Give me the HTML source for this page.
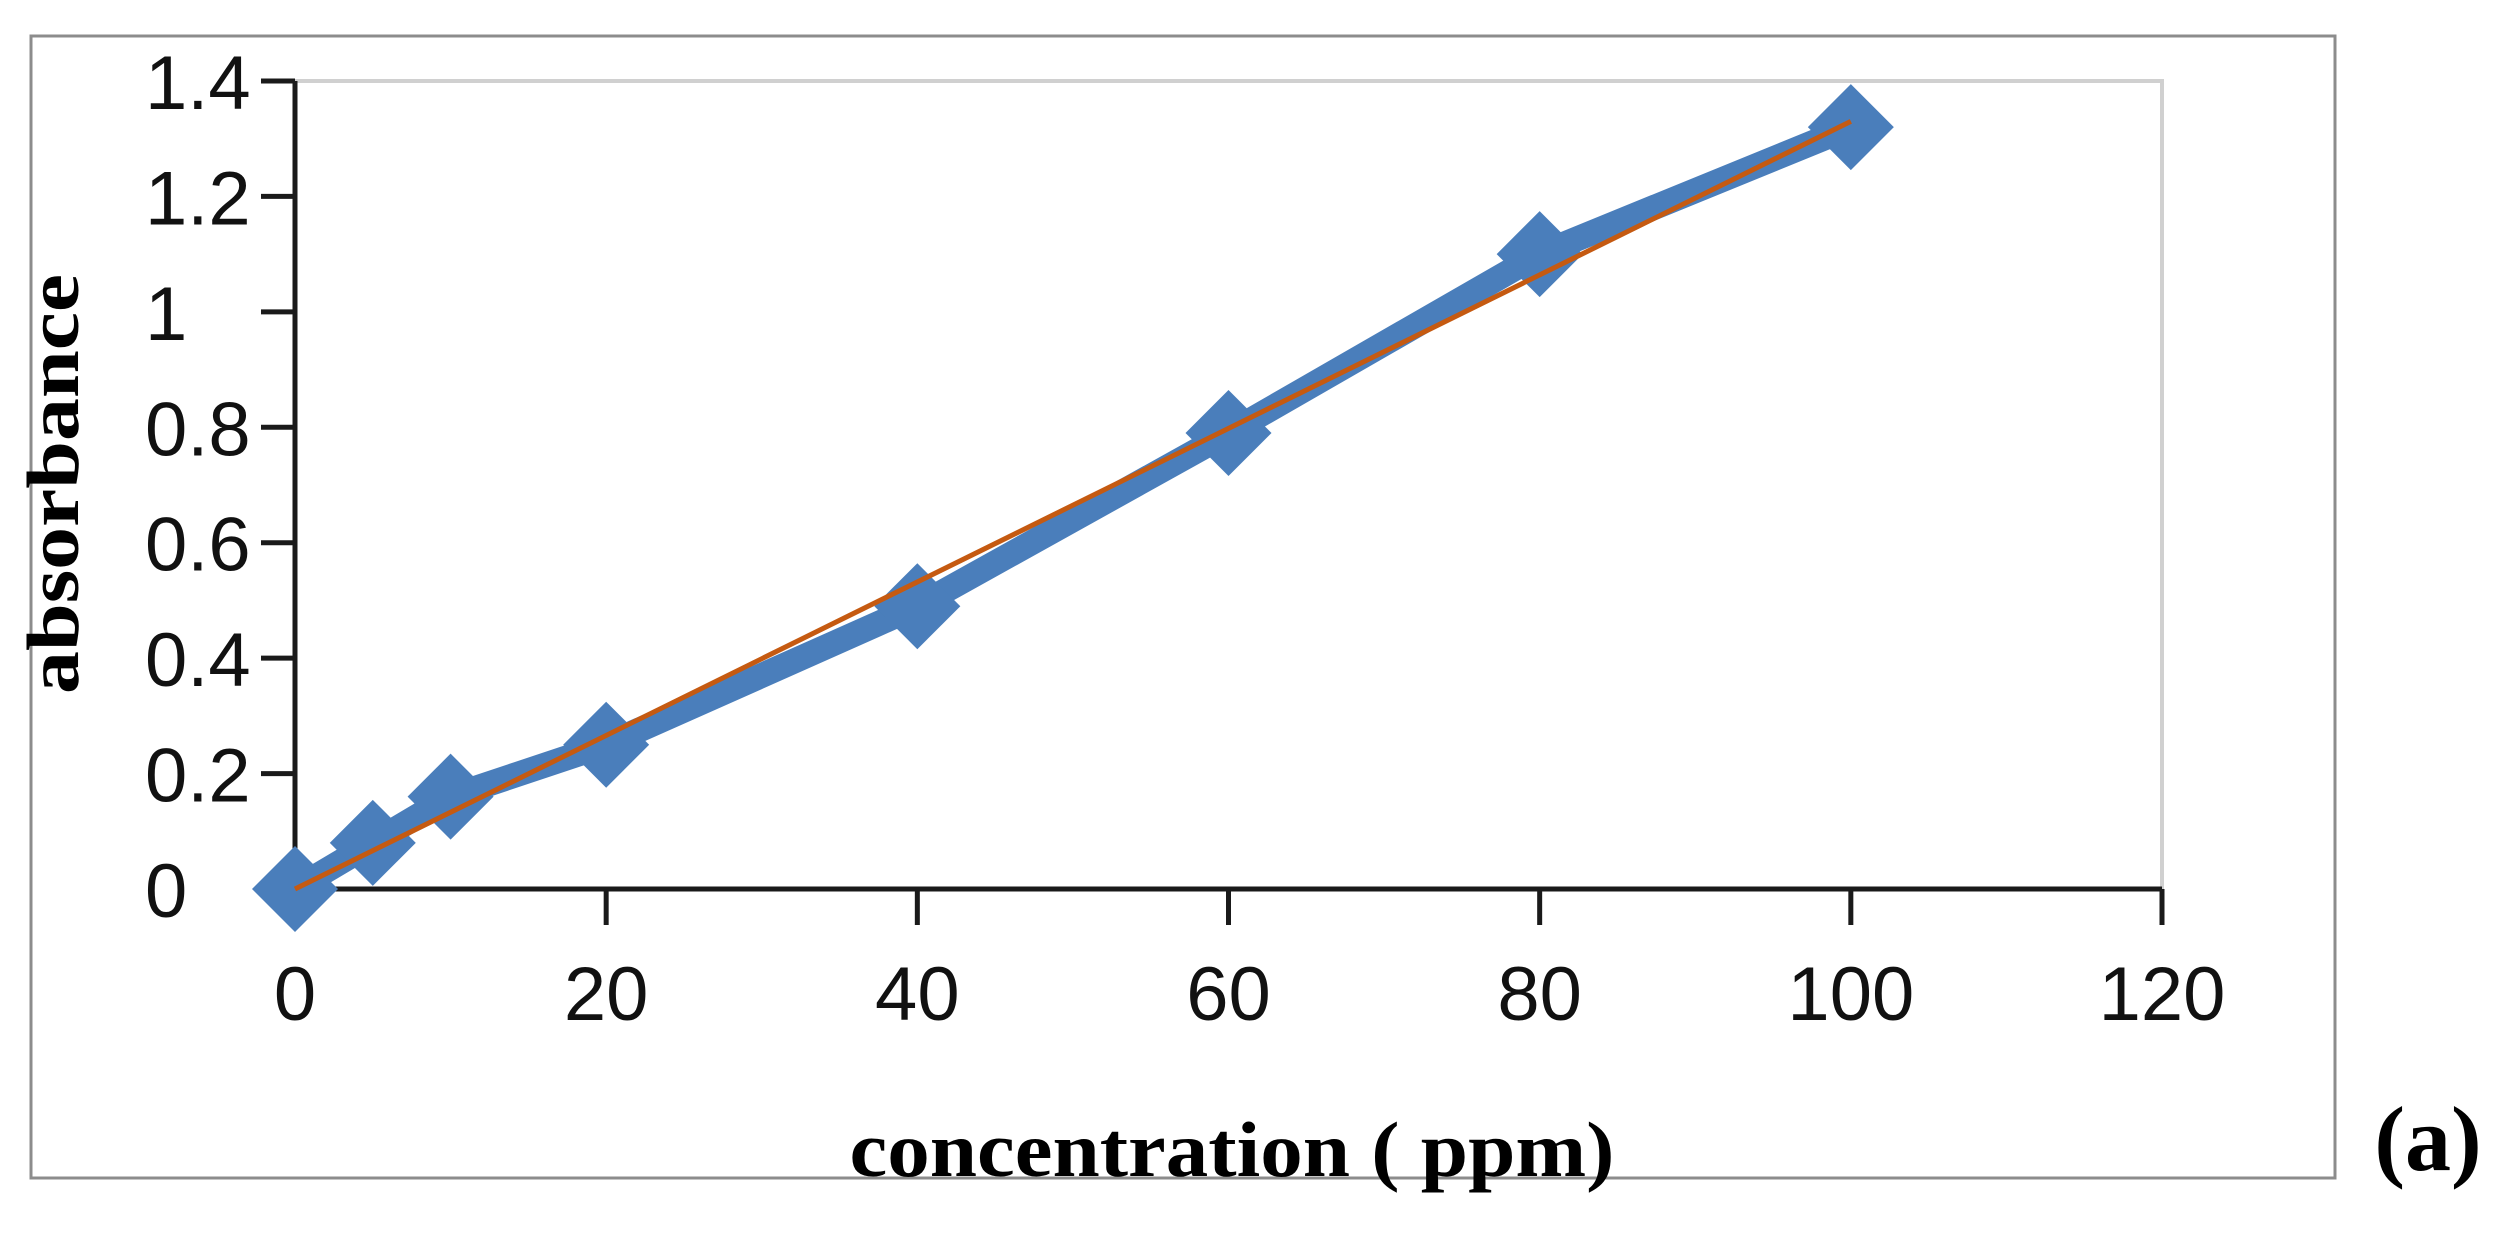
<!DOCTYPE html>
<html><head><meta charset="utf-8"><style>
html,body{margin:0;padding:0;background:#fff;}
svg{display:block;}
</style></head><body>
<svg id="chart" width="2509" height="1245" xmlns="http://www.w3.org/2000/svg">
<rect x="31" y="36" width="2304" height="1142" fill="#fff" stroke="#8c8c8c" stroke-width="3"/>
<g id="plot"></g>
<text transform="translate(78,484) rotate(-90)" text-anchor="middle" font-family="Liberation Serif, serif" font-weight="bold" font-size="74" textLength="420" lengthAdjust="spacingAndGlyphs">absorbance</text>
<text x="1232" y="1176" text-anchor="middle" font-family="Liberation Serif, serif" font-weight="bold" font-size="78" textLength="765" lengthAdjust="spacingAndGlyphs">concentration ( ppm)</text>
<text x="2428" y="1170" text-anchor="middle" font-family="Liberation Serif, serif" font-weight="bold" font-size="92">(a)</text>
</svg>
<script>
const xValues = [0, 5, 10, 20, 40, 60, 80, 100];
const yValues = [0, 0.08, 0.16, 0.25, 0.49, 0.79, 1.10, 1.32];
const trendX = [0, 100];
const trendY = [0, 1.33];
const xTicks = [0, 20, 40, 60, 80, 100, 120];
const yTicks = [0, 0.2, 0.4, 0.6, 0.8, 1, 1.2, 1.4];

const X0 = 295, X1 = 2162, Y0 = 889, Y1 = 81;
const sx = v => X0 + (v - 0) / 120 * (X1 - X0);
const sy = v => Y0 - (v - 0) / 1.4 * (Y0 - Y1);
const NS = 'http://www.w3.org/2000/svg';
const plot = document.getElementById('plot');
function mk(tag, attrs) {
  const e = document.createElementNS(NS, tag);
  for (const k in attrs) e.setAttribute(k, attrs[k]);
  plot.appendChild(e);
  return e;
}
let fr = mk('path', {d: `M${X0},${Y1} H${X1} V${Y0}`, fill: 'none', stroke: '#d0d0d0', 'stroke-width': 4});


let ya = mk('line', {x1: X0, y1: Y1, x2: X0, y2: Y0, stroke: '#1a1a1a', 'stroke-width': 5});


let xa = mk('line', {x1: X0, y1: Y0, x2: X1, y2: Y0, stroke: '#1a1a1a', 'stroke-width': 5});


yTicks.forEach(t => {
  const y = sy(t);
  const l = mk('line', {x1: 261, y1: y, x2: X0, y2: y, stroke: '#1a1a1a', 'stroke-width': 5});
  
  
  const tx = mk('text', {x: 145, y: y + 28, 'text-anchor': 'start', 'font-family': 'Liberation Sans, sans-serif', 'font-size': 76, fill: '#111'});
  tx.textContent = String(t);
  
  
});
xTicks.forEach(t => {
  const x = sx(t);
  const l = mk('line', {x1: x, y1: Y0, x2: x, y2: 925, stroke: '#1a1a1a', 'stroke-width': 5});
  
  
  const tx = mk('text', {x: x, y: 1020, 'text-anchor': 'middle', 'font-family': 'Liberation Sans, sans-serif', 'font-size': 76, fill: '#111'});
  tx.textContent = String(t);
  
  
});
const pts = xValues.map((v, i) => sx(v) + ',' + sy(yValues[i])).join(' ');
const dl = mk('polyline', {points: pts, fill: 'none', stroke: '#4a7ebb', 'stroke-width': 25, 'stroke-linejoin': 'round'});


xValues.forEach((v, i) => {
  const cx = sx(v), cy = sy(yValues[i]), h = 43;
  const d = mk('polygon', {points: `${cx},${cy - h} ${cx + h},${cy} ${cx},${cy + h} ${cx - h},${cy}`, fill: '#4a7ebb'});
  
  
});
const tl = mk('line', {x1: sx(trendX[0]), y1: sy(trendY[0]), x2: sx(trendX[1]), y2: sy(trendY[1]), stroke: '#c55a11', 'stroke-width': 5});


</script>
</body></html>
